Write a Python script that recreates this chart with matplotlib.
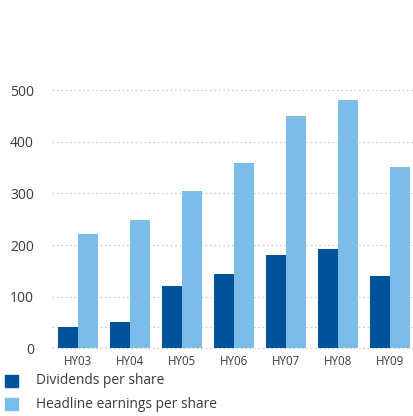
import matplotlib
matplotlib.use('Agg')
import matplotlib.pyplot as plt
import numpy as np
from matplotlib.patches import Rectangle

# data
periods = ['HY03', 'HY04', 'HY05', 'HY06', 'HY07', 'HY08', 'HY09']
dividends = [41, 51, 121, 144, 181, 192, 140]
headline_eps = [222, 249, 305, 359, 450, 481, 351]
y_ticks = [0, 100, 200, 300, 400, 500]

dark_blue = '#00529b'
light_blue = '#7bbde8'
text_col = '#3a3a3a'

plt.rcParams['font.family'] = ['Open Sans', 'DejaVu Sans']

fig = plt.figure(figsize=(4.14, 4.16), dpi=100)
ax = fig.add_axes([0.1256, 0.1627, 0.8744, 0.6204])

x = np.arange(len(periods))
w = 0.385
ax.bar(x - 0.2, dividends, width=w, color=dark_blue, zorder=2)
ax.bar(x + 0.2, headline_eps, width=w, color=light_blue, zorder=2)

ax.set_xlim(-0.5, 6.46)
ax.set_ylim(0, 500)
ax.set_yticks(y_ticks)
ax.set_xticks(x)
ax.set_xticklabels(periods)
for t in y_ticks + [42]:
    ax.axhline(t, color='#d0d0d0', lw=0.9, ls=(0, (1.5, 2)), zorder=1, clip_on=False)

for s in ax.spines.values():
    s.set_visible(False)
ax.tick_params(axis='y', length=0, pad=13, labelsize=10, labelcolor=text_col)
ax.tick_params(axis='x', length=0, pad=5, labelsize=8.3, labelcolor=text_col)

# legend drawn by hand to match the layout
labels = ['Dividends per share', 'Headline earnings per share']
colors = [dark_blue, light_blue]
for i, (lab, c) in enumerate(zip(labels, colors)):
    yc = 1 - (381 + 23 * i) / 416
    fig.patches.append(Rectangle((5 / 414, yc - 6 / 416), 13 / 414, 12 / 416,
                                 transform=fig.transFigure, color=c))
    fig.text(36 / 414, yc, lab, fontsize=9.9, color=text_col, va='center')

fig.savefig('out.png', dpi=100)
